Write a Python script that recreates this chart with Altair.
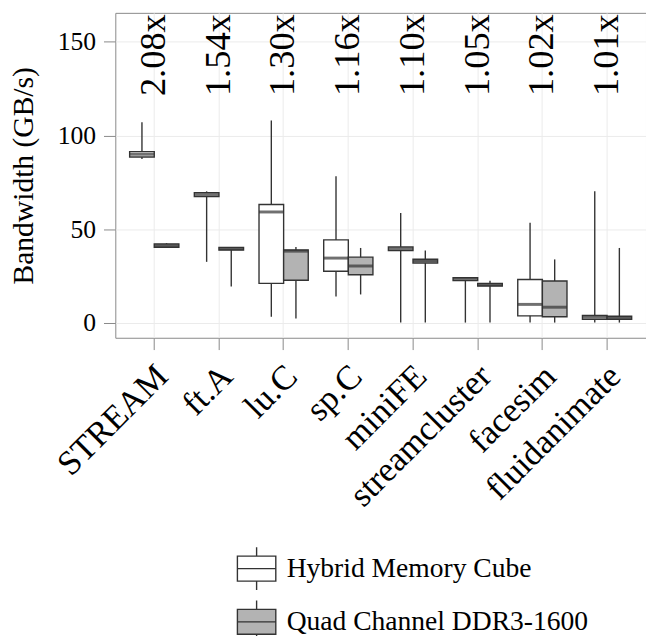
import altair as alt
import pandas as pd

FONT = "Liberation Serif"

benchmarks = ["STREAM", "ft.A", "lu.C", "sp.C", "miniFE", "streamcluster", "facesim", "fluidanimate"]
systems = ["Hybrid Memory Cube", "Quad Channel DDR3-1600"]
ratios = ["2.08x", "1.54x", "1.30x", "1.16x", "1.10x", "1.05x", "1.02x", "1.01x"]

hmc_lower = [87.4, 32.6, 3.3, 14.1, 0.2, 0.2, 0.2, 0.2]
hmc_q1 = [88.5, 67.4, 21.1, 27.6, 38.6, 22.6, 3.8, 1.9]
hmc_median = [90.0, 68.5, 59.2, 34.6, 39.5, 23.4, 9.9, 3.0]
hmc_q3 = [91.4, 69.5, 63.2, 44.3, 40.5, 24.1, 23.2, 4.0]
hmc_upper = [107.0, 70.2, 108.0, 78.2, 58.6, 24.5, 53.4, 70.3]

ddr_lower = [40.2, 19.4, 2.4, 15.2, 0.2, 0.2, 0.2, 0.2]
ddr_q1 = [40.4, 38.9, 22.8, 25.7, 31.9, 19.7, 3.3, 1.9]
ddr_median = [41.3, 39.6, 38.3, 30.4, 33.0, 20.4, 8.4, 2.7]
ddr_q3 = [42.2, 40.3, 38.9, 35.1, 34.0, 21.1, 22.4, 3.6]
ddr_upper = [42.6, 40.3, 40.5, 40.0, 38.7, 22.5, 33.9, 40.0]

ratio_label_value = 121

rows = []
for i, b in enumerate(benchmarks):
    rows.append(dict(bench=b, system=systems[0], lower=hmc_lower[i], q1=hmc_q1[i],
                     median=hmc_median[i], q3=hmc_q3[i], upper=hmc_upper[i]))
    rows.append(dict(bench=b, system=systems[1], lower=ddr_lower[i], q1=ddr_q1[i],
                     median=ddr_median[i], q3=ddr_q3[i], upper=ddr_upper[i]))
df = pd.DataFrame(rows)
ratio_df = pd.DataFrame({"bench": benchmarks, "ratio": ratios})

GRID = "#ebebeb"
BORDER = "#888888"
DARK = "#333333"
YTITLE = "Bandwidth (GB/s)"

x_enc = alt.X(
    "bench:N", sort=benchmarks, title=None,
    scale=alt.Scale(paddingInner=0, paddingOuter=0.102),
    axis=alt.Axis(
        bandPosition=0.5, labelAngle=315, labelAlign="right", labelBaseline="top",
        labelFont=FONT, labelFontSize=35, labelColor="black", labelPadding=9,
        labelOffset=-4, tickSize=12, tickColor=BORDER, grid=True, gridColor=GRID,
        domain=False, labelLimit=1000,
    ),
)
xoff = alt.XOffset("system:N", sort=systems,
                   scale=alt.Scale(paddingInner=0, paddingOuter=0.314))
yscale = alt.Scale(domain=[-7.9, 165.4], nice=False, zero=False)
yaxis = alt.Axis(
    values=[0, 50, 100, 150], grid=True, gridColor=GRID, tickColor=BORDER, tickSize=12,
    labelFont=FONT, labelFontSize=26, labelColor="black", labelPadding=8,
    titleFont=FONT, titleFontSize=30, titleFontWeight="normal", titleColor="black",
    titlePadding=19, domain=False,
)

box_path = "M-1,-0.65H1V0.65H-1Z M-1,0H1 M0,-0.65V-1.11 M0,0.65V1.11"

whisk = alt.Chart(df).mark_rule(color=DARK, strokeWidth=1.4).encode(
    x=x_enc, xOffset=xoff,
    y=alt.Y("lower:Q", scale=yscale, axis=yaxis, title=YTITLE),
    y2="upper:Q",
)
box = alt.Chart(df).mark_bar(stroke=DARK, strokeWidth=1.4).encode(
    x=x_enc, xOffset=xoff,
    y=alt.Y("q1:Q", scale=yscale, title=YTITLE),
    y2="q3:Q",
    fill=alt.Fill(
        "system:N", sort=systems,
        scale=alt.Scale(domain=systems, range=["#ffffff", "#b3b3b3"]),
        legend=alt.Legend(
            orient="none", legendX=123, legendY=544, title=None,
            symbolType=box_path, symbolSize=1521, symbolStrokeColor=DARK,
            symbolStrokeWidth=1.4, labelFont=FONT, labelFontSize=28,
            labelColor="black", rowPadding=5, labelOffset=10, padding=0,
            labelLimit=1000,
        ),
    ),
)
med = alt.Chart(df).mark_tick(color=DARK, thickness=3, size=25).encode(
    x=x_enc, xOffset=xoff,
    y=alt.Y("median:Q", scale=yscale, title=YTITLE),
)
txt = alt.Chart(ratio_df).mark_text(
    angle=270, align="left", baseline="middle", font=FONT, fontSize=37, color="black"
).encode(
    x=x_enc,
    y=alt.datum(ratio_label_value),
    text="ratio:N",
)

chart = alt.layer(whisk, box, med, txt).properties(
    width=539, height=330,
    autosize=alt.AutoSizeParams(type="none"),
    padding={"left": 109, "top": 0, "right": 0, "bottom": 300},
).configure_view(
    stroke=BORDER, strokeWidth=1
).configure_axis(
    labelFont=FONT, titleFont=FONT
).configure_legend(
    labelFont=FONT
).configure_text(
    font=FONT
)

chart.save("out.html", embed_options={"renderer": "svg", "actions": False})
